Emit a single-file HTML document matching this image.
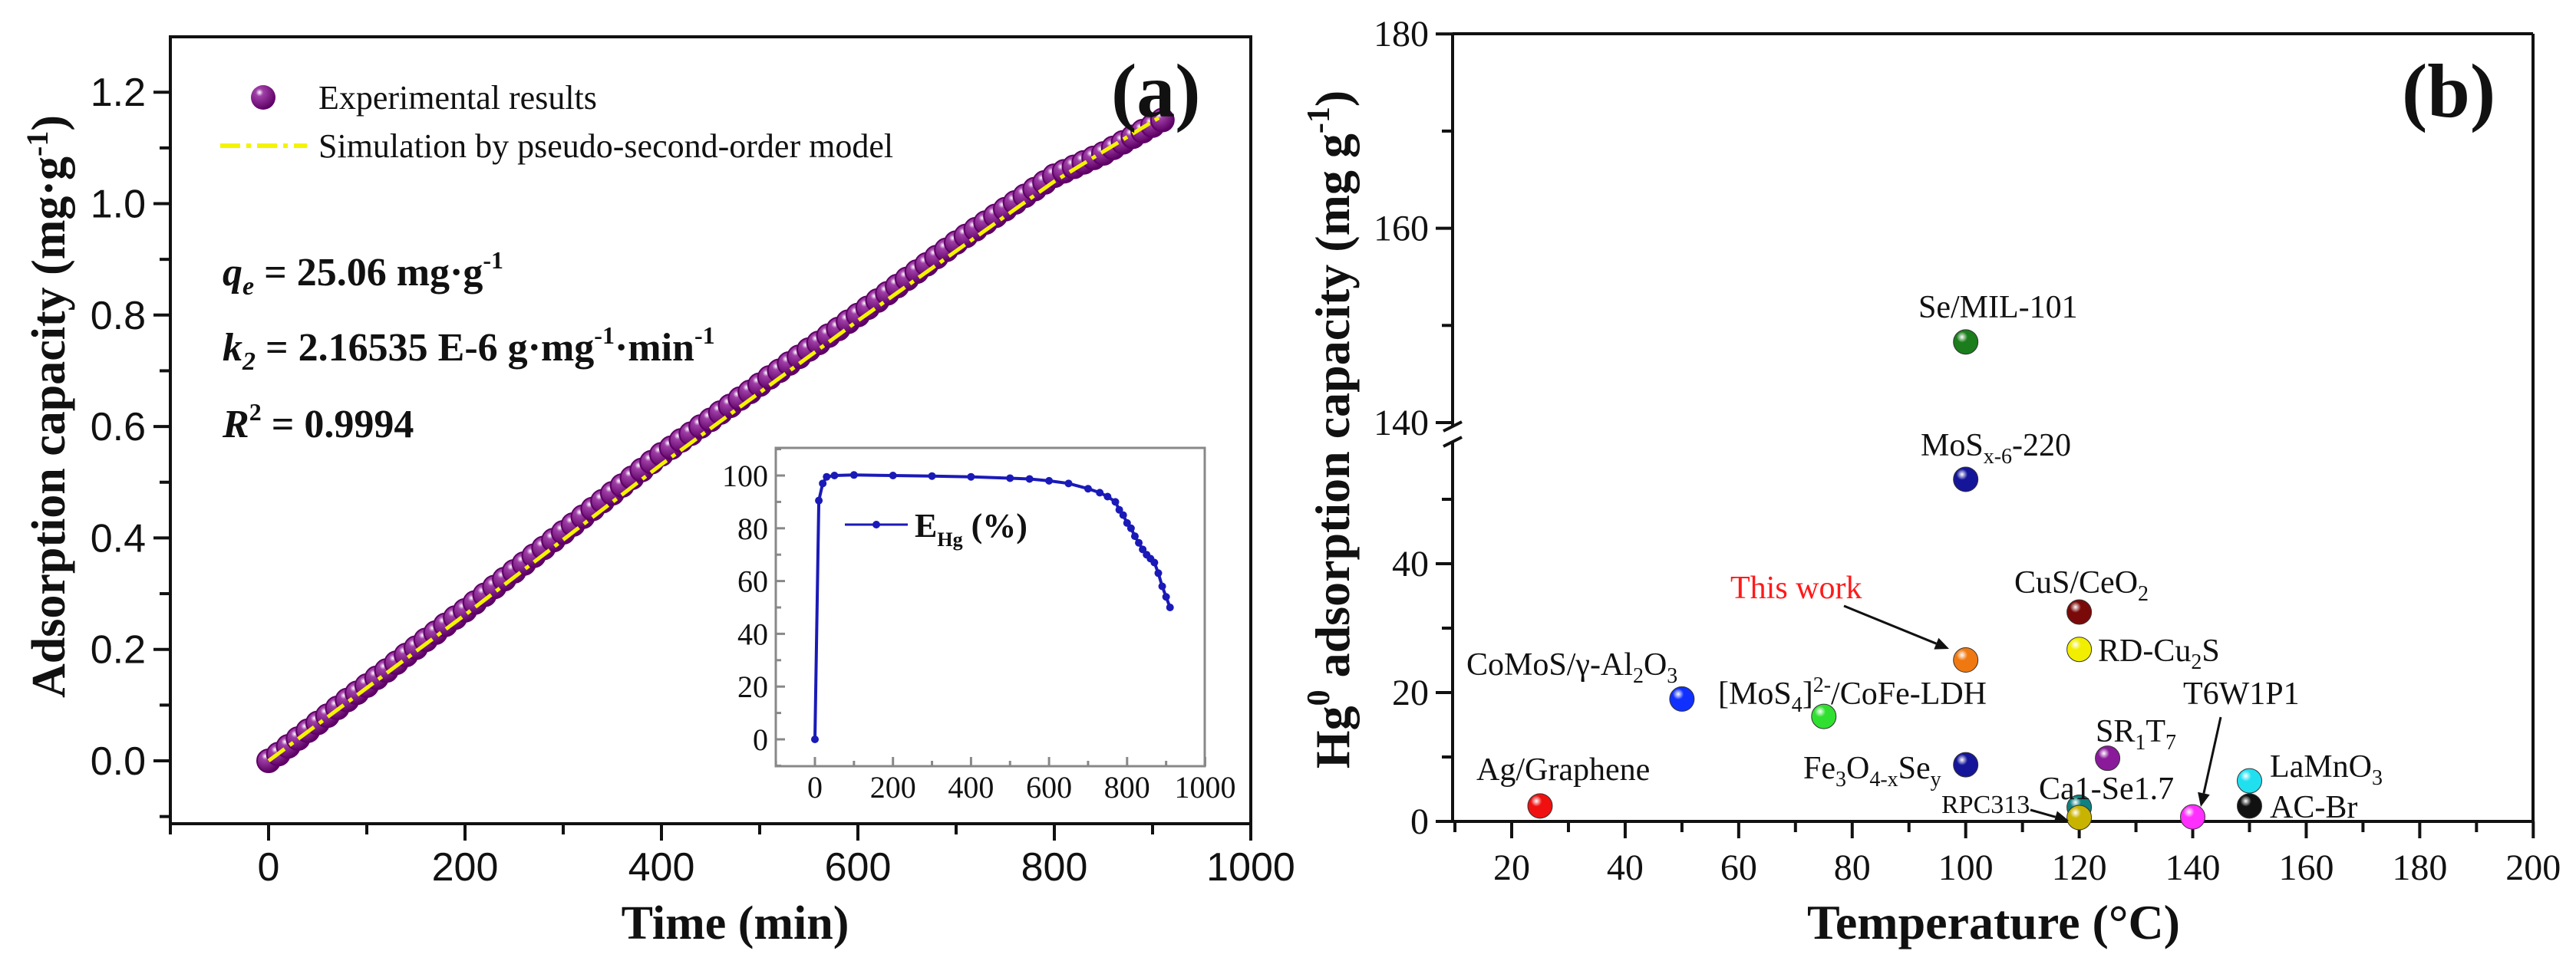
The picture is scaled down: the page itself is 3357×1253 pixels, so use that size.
<!DOCTYPE html>
<html><head><meta charset="utf-8"><style>
html,body{margin:0;padding:0;background:#fff;}
svg{display:block;}
</style></head><body>
<svg id="c" xmlns="http://www.w3.org/2000/svg" width="3357" height="1253" viewBox="0 0 3357 1253">
<defs>
<radialGradient id="gp" cx="0.35" cy="0.3" r="0.7"><stop offset="0" stop-color="#fff"/><stop offset="0.22" stop-color="#a040a8"/><stop offset="1" stop-color="#5e0066"/></radialGradient>
</defs>
</svg>
<script>
// ---------- Panel (a) data ----------
const aTimes = [0,10,20,30,40,50,60,70,80,90,100,110,120,130,140,150,160,170,180,190,200,210,220,230,240,250,260,270,280,290,300,310,320,330,340,350,360,370,380,390,400,410,420,430,440,450,460,470,480,490,500,510,520,530,540,550,560,570,580,590,600,610,620,630,640,650,660,670,680,690,700,710,720,730,740,750,760,770,780,790,800,810,820,830,840,850,860,870,880,890,900,910];
const aCapacity = [0,.012,.026,.040,.054,.068,.081,.095,.109,.122,.135,.149,.162,.176,.190,.203,.217,.230,.244,.257,.270,.284,.298,.312,.326,.340,.354,.368,.382,.396,.410,.424,.438,.452,.466,.480,.494,.508,.522,.536,.550,.562,.575,.587,.600,.612,.625,.637,.650,.662,.675,.688,.700,.713,.725,.738,.750,.763,.775,.788,.800,.813,.826,.839,.852,.865,.878,.891,.904,.917,.930,.942,.954,.966,.978,.990,1.002,1.014,1.026,1.038,1.050,1.058,1.066,1.074,1.082,1.090,1.100,1.110,1.120,1.130,1.140,1.150];
const simTimes = [0,200,400,600,800,910];
const simCapacity = [0,0.262,0.532,0.79,1.04,1.158];
const aXTicks = [0,200,400,600,800,1000];
const aYTicks = [0.0,0.2,0.4,0.6,0.8,1.0,1.2];
// inset
const inTimes = [0,10,20,30,50,100,200,300,400,500,550,600,650,700,730,750,770,780,790,800,810,820,830,840,850,860,870,880,890,900,910];
const inEff = [0,90.5,97,99.5,100,100.2,100,99.8,99.5,99,98.7,98,97,95,93.5,92,90,87,85,82,80,77,74.5,72,70,68.5,67,63,58,54,50];
const inXTicks = [0,200,400,600,800,1000];
const inYTicks = [0,20,40,60,80,100];
// ---------- Panel (b) data ----------
const bNames = ["Se/MIL-101","MoSx-6-220","This work","CuS/CeO2","RD-Cu2S","CoMoS/γ-Al2O3","[MoS4]2-/CoFe-LDH","Ag/Graphene","Fe3O4-xSey","SR1T7","Ca1-Se1.7","RPC313","T6W1P1","LaMnO3","AC-Br"];
const bTemps = [100,100,100,120,120,50,75,25,100,125,120,120,140,150,150];
const bCaps = [148.3,53.1,25.06,32.5,26.7,19,16.3,2.4,8.8,9.8,2.2,0.6,0.7,6.3,2.4];
const bColors = ["#1b7d1b","#15159a","#f07810","#7a0a0a","#f2ee00","#1030ff","#30e030","#f01010","#15159a","#8a1a9a","#108080","#c8b400","#ff30ff","#20e0f0","#111111"];
const bXTicks = [20,40,60,80,100,120,140,160,180,200];
const bYTicksLow = [0,20,40];
const bYTicksHigh = [140,160,180];

const svg = document.getElementById('c');
const NS = 'http://www.w3.org/2000/svg';
function mk(tag, attrs, parent){const e=document.createElementNS(NS,tag);for(const k in attrs)e.setAttribute(k,attrs[k]);(parent||svg).appendChild(e);return e;}
function txt(s, attrs, parent){const e=mk('text',attrs,parent);e.innerHTML=s;return e;}

const ax = t => 350 + t*1.28;
const ay = q => 992 - q*726.5;
const ix = t => 1062 + t*0.5085;
const iy = e => 964 - e*3.44;
const bx = T => 1970 + (T-20)*7.396;
const by = v => v >= 100 ? 551 - (v-140)*12.67 : 1071 - v*8.4;

// ===== Panel a =====
const ga = mk('g',{});


let e = mk('rect',{x:222,y:48,width:1408,height:1026,fill:'none',stroke:'#111','stroke-width':4},ga);


for(let t=-100;t<=1000;t+=100){
  const major = aXTicks.includes(t);
  mk('line',{x1:ax(t),x2:ax(t),y1:1074,y2:1074+(major?22:14),stroke:'#111','stroke-width':4},ga);
}
aXTicks.forEach(t=>{
  e = txt(String(t),{x:ax(t),y:1148,'font-family':'Liberation Sans, sans-serif','font-size':52,'text-anchor':'middle',fill:'#111'},ga);
  
  
});
for(let i=-1;i<=13;i++){
  const q=i/10; const y=ay(q); if(y<48||y>1074) continue;
  const major = i%2===0;
  mk('line',{x1:222,x2:222-(major?22:14),y1:y,y2:y,stroke:'#111','stroke-width':4},ga);
}
aYTicks.forEach(q=>{
  e = txt(q.toFixed(1),{x:190,y:ay(q)+18,'font-family':'Liberation Sans, sans-serif','font-size':52,'text-anchor':'end',fill:'#111'},ga);
  
  
});
e = txt('Time (min)',{x:958,y:1224,'font-family':'Liberation Serif, serif','font-size':62,'font-weight':'bold','text-anchor':'middle',fill:'#111'},ga);


e = txt('Adsorption capacity (mg·g<tspan dy="-22" font-size="40">-1</tspan><tspan dy="22">)</tspan>',{x:0,y:0,transform:'translate(84,530) rotate(-90)','font-family':'Liberation Serif, serif','font-size':62,'font-weight':'bold','text-anchor':'middle',fill:'#111'},ga);



aTimes.forEach((t,i)=>{
  const c = mk('circle',{cx:ax(t),cy:ay(aCapacity[i]),r:15,fill:'url(#gp)',stroke:'#5e0066','stroke-width':2},ga);
  
  
});
let d = simTimes.map((t,i)=>(i?'L':'M')+ax(t)+' '+ay(simCapacity[i])).join(' ');
e = mk('path',{d:d,fill:'none',stroke:'#f4f400','stroke-width':5,'stroke-dasharray':'26 8 6 8'},ga);



e = mk('circle',{cx:343,cy:127,r:16,fill:'url(#gp)'},ga);


e = txt('Experimental results',{x:415,y:142,'font-family':'Liberation Serif, serif','font-size':44,fill:'#111'},ga);


e = mk('line',{x1:287,x2:400,y1:190,y2:190,stroke:'#f4f400','stroke-width':6,'stroke-dasharray':'26 8 6 8'},ga);


e = txt('Simulation by pseudo-second-order model',{x:415,y:205,'font-family':'Liberation Serif, serif','font-size':44,fill:'#111'},ga);



const eqs = [
 ['<tspan font-style="italic">q</tspan><tspan font-style="italic" font-size="34" dy="12">e</tspan><tspan dy="-12"> = 25.06 mg·g</tspan><tspan font-size="32" dy="-22">-1</tspan>',372,'equation-qe'],
 ['<tspan font-style="italic">k</tspan><tspan font-style="italic" font-size="34" dy="12">2</tspan><tspan dy="-12"> = 2.16535 E-6 g·mg</tspan><tspan font-size="32" dy="-22">-1</tspan><tspan dy="22">·min</tspan><tspan font-size="32" dy="-22">-1</tspan>',470,'equation-k2'],
 ['<tspan font-style="italic">R</tspan><tspan font-size="32" dy="-22">2</tspan><tspan dy="22"> = 0.9994</tspan>',570,'equation-r2']
];
eqs.forEach(q=>{
  e = txt(q[0],{x:290,y:q[1],'font-family':'Liberation Serif, serif','font-size':52,'font-weight':'bold',fill:'#111'},ga);
  
  
});
e = txt('(a)',{x:1448,y:152,'font-family':'Liberation Serif, serif','font-size':100,'font-weight':'bold',fill:'#111'},ga);



// inset
const gi = mk('g',{},ga);


mk('rect',{x:1011,y:584,width:559,height:415,fill:'#fff',stroke:'#888','stroke-width':3},gi);
for(let t=-100;t<=1000;t+=100){const major=inXTicks.includes(t);mk('line',{x1:ix(t),x2:ix(t),y1:999,y2:999-(major?12:7),stroke:'#888','stroke-width':3},gi);}
for(let v=-10;v<=110;v+=10){const major=inYTicks.includes(v);mk('line',{x1:1011,x2:1011+(major?12:7),y1:iy(v),y2:iy(v),stroke:'#888','stroke-width':3},gi);}
inXTicks.forEach(t=>{e=txt(String(t),{x:ix(t),y:1040,'font-family':'Liberation Serif, serif','font-size':40,'text-anchor':'middle',fill:'#111'},gi);});
inYTicks.forEach(v=>{e=txt(String(v),{x:1001,y:iy(v)+14,'font-family':'Liberation Serif, serif','font-size':40,'text-anchor':'end',fill:'#111'},gi);});
d = inTimes.map((t,i)=>(i?'L':'M')+ix(t)+' '+iy(inEff[i])).join(' ');
e = mk('path',{d:d,fill:'none',stroke:'#1a1ab8','stroke-width':4},gi);


inTimes.forEach((t,i)=>{e=mk('circle',{cx:ix(t),cy:iy(inEff[i]),r:5,fill:'#1a1ab8'},gi);});
mk('line',{x1:1101,x2:1183,y1:684,y2:684,stroke:'#1a1ab8','stroke-width':3},gi);
mk('circle',{cx:1142,cy:684,r:5,fill:'#1a1ab8'},gi);
e = txt('E<tspan font-size="26" dy="12">Hg</tspan><tspan dy="-12"> (%)</tspan>',{x:1192,y:700,'font-family':'Liberation Serif, serif','font-size':44,'font-weight':'bold',fill:'#111'},gi);



// ===== Panel b =====
const gb = mk('g',{});


mk('line',{x1:1893,x2:3301,y1:44,y2:44,stroke:'#111','stroke-width':4},gb);
mk('line',{x1:3301,x2:3301,y1:44,y2:1071,stroke:'#111','stroke-width':4},gb);
mk('line',{x1:1893,x2:3301,y1:1071,y2:1071,stroke:'#111','stroke-width':4},gb);
e = mk('line',{x1:1893,x2:1893,y1:44,y2:556,stroke:'#111','stroke-width':4},gb);


e = mk('line',{x1:1893,x2:1893,y1:576,y2:1071,stroke:'#111','stroke-width':4},gb);


mk('line',{x1:1881,x2:1905,y1:562,y2:550,stroke:'#111','stroke-width':4},gb);
mk('line',{x1:1881,x2:1905,y1:582,y2:570,stroke:'#111','stroke-width':4},gb);
for(let T=10;T<=200;T+=10){const major=bXTicks.includes(T);mk('line',{x1:bx(T),x2:bx(T),y1:1071,y2:1071+(major?22:14),stroke:'#111','stroke-width':4},gb);}
[0,10,20,30,40,50].forEach(v=>{mk('line',{x1:1893,x2:1893-(v%20===0?22:14),y1:by(v),y2:by(v),stroke:'#111','stroke-width':4},gb);});
[140,150,160,170,180].forEach(v=>{mk('line',{x1:1893,x2:1893-(v%20===0?22:14),y1:by(v),y2:by(v),stroke:'#111','stroke-width':4},gb);});
bXTicks.forEach(T=>{e=txt(String(T),{x:bx(T),y:1147,'font-family':'Liberation Serif, serif','font-size':48,'text-anchor':'middle',fill:'#111'},gb);});
bYTicksLow.concat(bYTicksHigh).forEach(v=>{e=txt(String(v),{x:1862,y:by(v)+16,'font-family':'Liberation Serif, serif','font-size':48,'text-anchor':'end',fill:'#111'},gb);});
e = txt('Temperature (°C)',{x:2598,y:1224,'font-family':'Liberation Serif, serif','font-size':64,'font-weight':'bold','text-anchor':'middle',fill:'#111'},gb);


e = txt('Hg<tspan font-size="42" dy="-26">0</tspan><tspan dy="26"> adsorption capacity (mg g</tspan><tspan font-size="42" dy="-26">-1</tspan><tspan dy="26">)</tspan>',{x:0,y:0,transform:'translate(1758,560) rotate(-90)','font-family':'Liberation Serif, serif','font-size':64,'font-weight':'bold','text-anchor':'middle',fill:'#111'},gb);


e = txt('(b)',{x:3130,y:152,'font-family':'Liberation Serif, serif','font-size':100,'font-weight':'bold',fill:'#111'},gb);



bNames.forEach((n,i)=>{
  const g = mk('radialGradient',{id:'gb'+i,cx:'0.35',cy:'0.3',r:'0.75'},svg.querySelector('defs'));
  mk('stop',{offset:'0','stop-color':'#fff'},g);
  mk('stop',{offset:'0.3','stop-color':bColors[i]},g);
  mk('stop',{offset:'1','stop-color':bColors[i]},g);
});
bNames.forEach((n,i)=>{
  const c = mk('circle',{cx:bx(bTemps[i]),cy:by(bCaps[i]),r:16,fill:'url(#gb'+i+')',stroke:'#333','stroke-width':1},gb);
  
  
});
const lbls = [
 ['Se/MIL-101',2500,414,42,'#111','label-se-mil-101'],
 ['MoS<tspan font-size="28" dy="10">x-6</tspan><tspan dy="-10">-220</tspan>',2503,594,42,'#111','label-mosx-220'],
 ['This work',2255,780,42,'#ff1a1a','label-this-work'],
 ['CuS/CeO<tspan font-size="28" dy="10">2</tspan>',2625,773,42,'#111','label-cus-ceo2'],
 ['RD-Cu<tspan font-size="28" dy="10">2</tspan><tspan dy="-10">S</tspan>',2734,862,42,'#111','label-rd-cu2s'],
 ['CoMoS/γ-Al<tspan font-size="28" dy="10">2</tspan><tspan dy="-10">O</tspan><tspan font-size="28" dy="10">3</tspan>',1911,880,42,'#111','label-comos'],
 ['[MoS<tspan font-size="28" dy="10">4</tspan><tspan dy="-10">]</tspan><tspan font-size="28" dy="-16">2-</tspan><tspan dy="16">/CoFe-LDH</tspan>',2239,918,42,'#111','label-mos4-cofe-ldh'],
 ['Ag/Graphene',1924,1017,42,'#111','label-ag-graphene'],
 ['Fe<tspan font-size="28" dy="10">3</tspan><tspan dy="-10">O</tspan><tspan font-size="28" dy="10">4-x</tspan><tspan dy="-10">Se</tspan><tspan font-size="28" dy="10">y</tspan>',2350,1015,42,'#111','label-fe3o4-sey'],
 ['SR<tspan font-size="28" dy="10">1</tspan><tspan dy="-10">T</tspan><tspan font-size="28" dy="10">7</tspan>',2731,967,42,'#111','label-sr1t7'],
 ['Ca1-Se1.7',2657,1042,42,'#111','label-ca1-se1-7'],
 ['RPC313',2530,1060,34,'#111','label-rpc313'],
 ['T6W1P1',2845,918,42,'#111','label-t6w1p1'],
 ['LaMnO<tspan font-size="28" dy="10">3</tspan>',2958,1013,42,'#111','label-lamno3'],
 ['AC-Br',2958,1066,42,'#111','label-ac-br']
];
lbls.forEach(l=>{
  e = txt(l[0],{x:l[1],y:l[2],'font-family':'Liberation Serif, serif','font-size':l[3],fill:l[4]},gb);
  
  
});
function arrow(x1,y1,x2,y2,name){
  const g = mk('g',{},gb);
  
  
  const a=Math.atan2(y2-y1,x2-x1), L=18, W=8;
  const bxp=x2-L*Math.cos(a), byp=y2-L*Math.sin(a);
  mk('line',{x1:x1,y1:y1,x2:bxp,y2:byp,stroke:'#111','stroke-width':3},g);
  mk('polygon',{points:`${x2},${y2} ${bxp-W*Math.sin(a)},${byp+W*Math.cos(a)} ${bxp+W*Math.sin(a)},${byp-W*Math.cos(a)}`,fill:'#111'},g);
}
arrow(2403,790,2540,846,'arrow-this-work');
arrow(2646,1056,2696,1070,'arrow-rpc313');
arrow(2894,935,2868,1052,'arrow-t6w1p1');
</script>
</body></html>
